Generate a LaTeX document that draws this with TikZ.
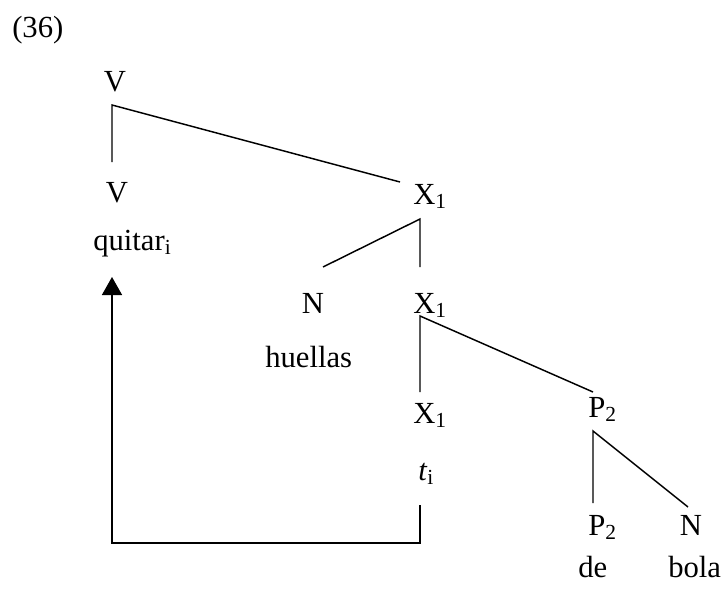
\documentclass[tikz,border=0pt]{standalone}
\usepackage{fontspec}
\setmainfont{Liberation Serif}
\usetikzlibrary{arrows.meta}

\begin{document}
\begin{tikzpicture}[
  x=0.75pt, y=-0.75pt,
  font=\fontsize{23}{28}\selectfont,
  every node/.style={inner sep=0pt},
  cat/.style={anchor=base west},
  ccat/.style={anchor=base},
  branch/.style={line width=1.1pt},
  move/.style={line width=1.1pt, -{Triangle[length=13.5pt,width=15pt]}}
]
\useasboundingbox (0,0) rectangle (728,592);
\node[cat] (ex) at (12,38) {(36)};
% labels of the tree
\node[ccat] (vtop) at (115,92) {V};
\node[ccat] (vlow) at (117,202) {V};
\node[cat] (quitar) at (93,250) {quitar\textsubscript{i}};
\node[cat] (xa) at (413,204) {X\textsubscript{1}};
\node[ccat] (nh) at (313,313) {N};
\node[cat] (xb) at (413,313) {X\textsubscript{1}};
\node[cat] (huellas) at (265,367) {huellas};
\node[cat] (xc) at (413,423) {X\textsubscript{1}};
\node[cat] (trace) at (418,480) {\textit{t}\textsubscript{i}};
\node[cat] (pa) at (588,417) {P\textsubscript{2}};
\node[cat] (pb) at (588,535) {P\textsubscript{2}};
\node[ccat] (nb) at (691,535) {N};
\node[cat] (de) at (578,577) {de};
\node[cat] (bola) at (668,577) {bola};
% ends of the branches
\coordinate (vtop-d) at (112,105);
\coordinate (vlow-u) at (112,162);
\coordinate (xa-u) at (400,182);
\coordinate (xa-d) at (420,219);
\coordinate (nh-u) at (323,267);
\coordinate (xb-u) at (420,267);
\coordinate (xb-d) at (420,316);
\coordinate (xc-u) at (420,392);
\coordinate (pa-u) at (593,392);
\coordinate (pa-d) at (593,431);
\coordinate (pb-u) at (593,503);
\coordinate (nb-u) at (688,507);
\coordinate (trace-d) at (420,505);
\coordinate (quitar-d) at (112,277);
\draw[branch] (vlow-u) -- (vtop-d) -- (xa-u);
\draw[branch] (nh-u) -- (xa-d) -- (xb-u);
\draw[branch] (xc-u) -- (xb-d) -- (pa-u);
\draw[branch] (pb-u) -- (pa-d) -- (nb-u);
% head movement of the verb
\draw[move] (trace-d) -- ++(0,38) -| (quitar-d);
\end{tikzpicture}
\end{document}
